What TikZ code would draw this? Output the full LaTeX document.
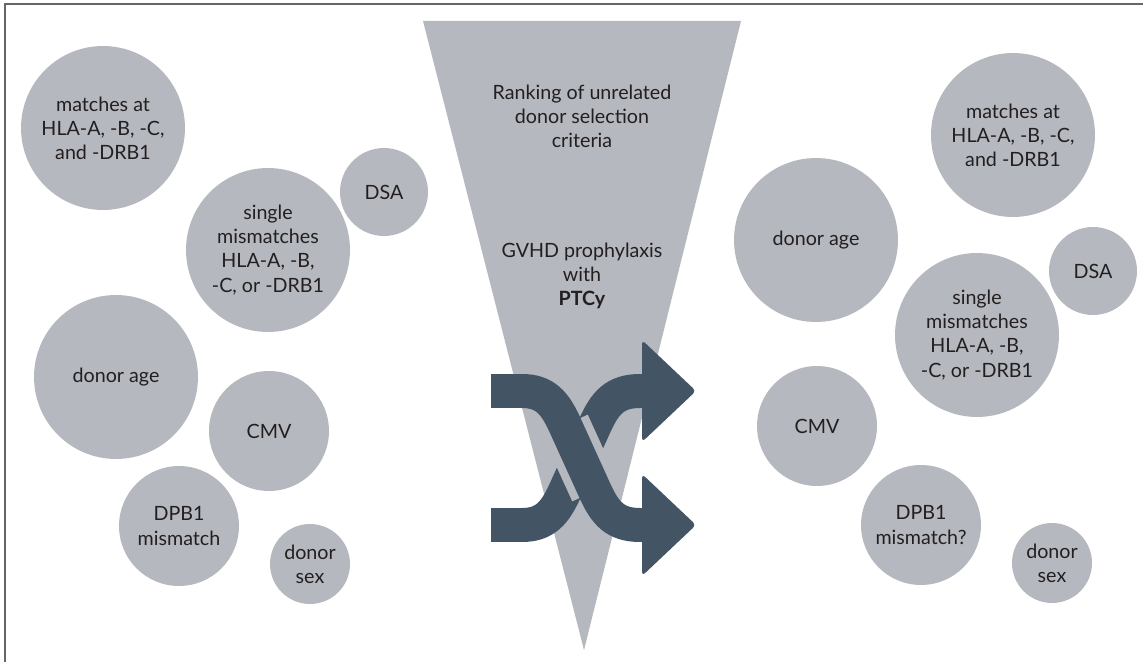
\documentclass[tikz,border=0pt]{standalone}
\usepackage{fontspec}
\setmainfont{Lato}
\usepackage{tikz}
\usetikzlibrary{positioning}
\definecolor{burbujagris}{HTML}{B5B8BE}
\definecolor{flechaazul}{HTML}{435464}
\definecolor{textogris}{HTML}{231F20}
\tikzset{
	x=0.02cm, y=-0.02cm, % Un pixel de la figura original
	burbuja/.style={circle, fill=burbujagris, text=textogris, align=center, inner sep=0pt, font=\fontsize{11.2}{13.7}\selectfont}, % Circulos de criterios
	grande/.style={minimum size=3.28cm}, % Criterios de mayor peso
	mediana/.style={minimum size=2.4cm},
	chica/.style={minimum size=1.76cm},
	mini/.style={minimum size=1.6cm},
	texto/.style={text=textogris, align=center, font=\fontsize{11.2}{13.7}\selectfont}, % Texto del embudo
	cruce/.style={line width=0.68cm, flechaazul}, % Trazos del icono
	punta/.style={fill=flechaazul, rounded corners=0.08cm} % Puntas de flecha
}

\begin{document}
\begin{tikzpicture}
	\useasboundingbox (0,0) rectangle (1143,662);
	\draw[line width=0.04cm, black!60] (5,662) -- (5,4) -- (1143,4);
	\fill[burbujagris] (423,21) -- (741,21) -- (584,650) -- cycle;
	\node[texto] (ranking) at (582,116) {Ranking of unrelated\\donor selection\\criteria};
	\node[texto] (gvhd) at (582,276) {GVHD prophylaxis\\with\\\textbf{PTCy}};
	% antes
	\node[burbuja, grande] (hla1) at (103,128) {matches at\\HLA-A, -B, -C,\\and -DRB1};
	\node[burbuja, chica] (dsa1) at (384,192) {DSA};
	\node[burbuja, grande] (single1) at (268,250) {single\\mismatches\\HLA-A, -B,\\-C, or -DRB1};
	\node[burbuja, grande] (edad1) at (116,377) {donor age};
	\node[burbuja, mediana] (cmv1) at (269,431) {CMV};
	\node[burbuja, mediana] (dpb1) at (179,526) {DPB1\\mismatch};
	\node[burbuja, mini] (sexo1) at (310,564) {donor\\sex};
	% despues
	\node[burbuja, grande] (hla2) at (1013,135) {matches at\\HLA-A, -B, -C,\\and -DRB1};
	\node[burbuja, grande] (edad2) at (816,240) {donor age};
	\node[burbuja, chica] (dsa2) at (1093,271) {DSA};
	\node[burbuja, grande] (single2) at (977,335) {single\\mismatches\\HLA-A, -B,\\-C, or -DRB1};
	\node[burbuja, mediana] (cmv2) at (817,426) {CMV};
	\node[burbuja, mediana] (dpb2) at (921,525) {DPB1\\mismatch?};
	\node[burbuja, mini] (sexo2) at (1052,563) {donor\\sex};
	% icono de cruce
	\coordinate (arribaIzq) at (491,391);
	\coordinate (abajoIzq) at (491,525);
	\coordinate (arribaDer) at (644,391);
	\coordinate (abajoDer) at (644,525);
	\draw[cruce] (abajoIzq) -- (522,525) .. controls (545,525) and (555,513) .. (565,491) -- (595,425) .. controls (605,403) and (615,391) .. (640,391) -- (arribaDer);
	\begin{scope}
		\clip (423,21) -- (741,21) -- (584,650) -- cycle;
		\draw[line width=1.0cm, burbujagris] (565,425) -- (595,491);
	\end{scope}
	\draw[cruce] (arribaIzq) -- (522,391) .. controls (545,391) and (555,403) .. (565,425) -- (595,491) .. controls (605,513) and (615,525) .. (640,525) -- (abajoDer);
	\fill[punta] (642,340) -- (696,391) -- (642,442) -- cycle;
	\fill[punta] (642,474) -- (696,525) -- (642,576) -- cycle;
\end{tikzpicture}
\end{document}
